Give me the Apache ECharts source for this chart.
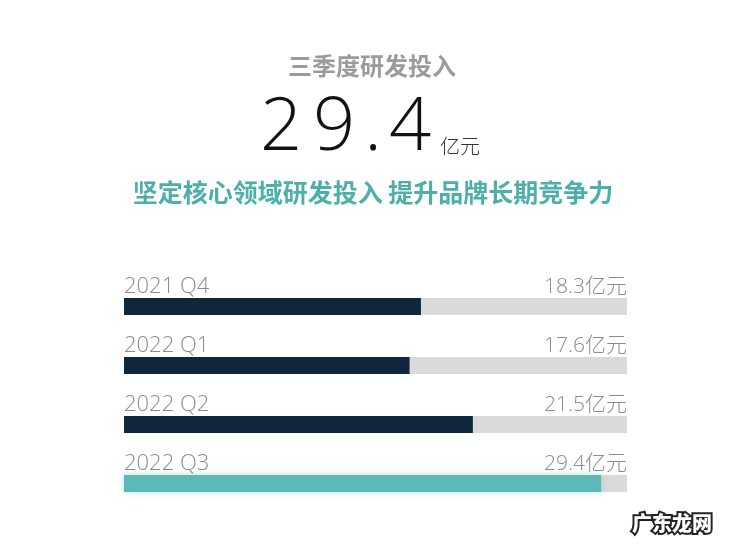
<!DOCTYPE html>
<html>
<head>
<meta charset="utf-8">
<script src="https://cdn.jsdelivr.net/npm/echarts@6/dist/echarts.min.js"></script>
<style>html,body{margin:0;padding:0;background:#fff;}#c{width:750px;height:552px;}</style>
</head>
<body>
<div id="c"></div>
<script>
var categories = ['2021 Q4', '2022 Q1', '2022 Q2', '2022 Q3'];
var values = [18.3, 17.6, 21.5, 29.4];
var unit = '亿元';
var trackMax = 31;
var headTitle = '三季度研发投入';
var headValue = '29.4';
var subTitle = '坚定核心领域研发投入 提升品牌长期竞争力';
var watermark = '广东龙网';

var chart = echarts.init(document.getElementById('c'));
var thin = "'Open Sans', 'Noto Sans CJK SC', sans-serif";
var cjk = "'Noto Sans CJK SC', sans-serif";

var digitCenters = [281, 334, 373, 410];
var graphics = [
  {type:'text', x:372, y:66, style:{text:headTitle, fill:'#9b9b9b', font:'bold 24px ' + cjk, align:'center', verticalAlign:'middle'}},
  {type:'text', x:373, y:192, style:{text:subTitle, fill:'#4cafa9', font:'bold 25px ' + cjk, align:'center', verticalAlign:'middle'}},
  {type:'text', x:440, y:146, style:{text:unit, fill:'#333', font:'300 20px ' + cjk, align:'left', verticalAlign:'middle'}},
  {type:'text', x:712, y:523, style:{text:watermark, fill:'#fff', stroke:'#222', lineWidth:4, font:'900 20px ' + cjk, align:'right', verticalAlign:'middle'}}
];
headValue.split('').forEach(function(ch, i){
  graphics.push({type:'text', x:digitCenters[i], y:129, style:{text:ch, fill:'#111', font:'200 74px ' + thin, align:'center', verticalAlign:'middle'}});
});

var option = {
  backgroundColor:'#fff',
  animation:false,
  grid:{left:124, right:123, top:277, bottom:39, containLabel:false},
  xAxis:{type:'value', min:0, max:trackMax, show:false},
  yAxis:{type:'category', data:categories, inverse:true, show:false},
  graphic: graphics,
  series:[
    {
      type:'bar', barWidth:17, silent:true,
      data: categories.map(function(){return trackMax;}),
      itemStyle:{color:'#dadada'},
      label:{show:true, position:['100%', 0], align:'right', verticalAlign:'bottom', distance:0,
        formatter:function(p){return values[p.dataIndex] + unit;},
        color:'#8c8c8c', fontSize:21, fontFamily:thin, fontWeight:300}
    },
    {
      type:'bar', barWidth:17, barGap:'-100%',
      data: values.map(function(v, i){
        return i === values.length - 1
          ? {value:v, itemStyle:{color:'#5cb9b6', shadowColor:'rgba(92,200,200,0.5)', shadowBlur:6}}
          : {value:v, itemStyle:{color:'#10263d'}};
      }),
      label:{show:true, position:[0, 0], align:'left', verticalAlign:'bottom',
        formatter:function(p){return categories[p.dataIndex];},
        color:'#8c8c8c', fontSize:22, fontFamily:thin, fontWeight:300}
    }
  ]
};
chart.setOption(option);
</script>
</body>
</html>
